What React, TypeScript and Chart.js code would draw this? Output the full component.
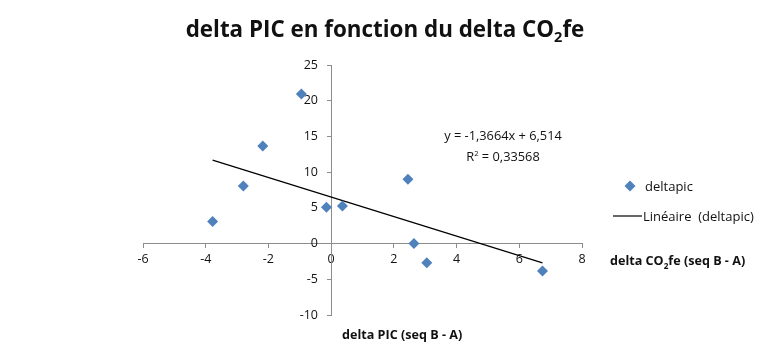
import React, { useEffect, useRef } from "react";
import { Chart, registerables } from "chart.js";

Chart.register(...registerables);

// Measured pairs: delta CO2fe (x) vs delta PIC (y), sequence B - A
const deltaCO2fe = [-3.78, -2.8, -2.18, -0.95, -0.15, 0.36, 2.45, 2.64, 3.05, 6.74];
const deltaPIC = [3.08, 8.07, 13.67, 20.95, 5.09, 5.27, 9.0, 0, -2.7, -3.83];

// Linear fit shown on the chart
const trendSlope = -1.3664;
const trendIntercept = 6.514;
const trendEquation = "y = -1,3664x + 6,514";
const trendR2 = "0,33568";

const xRange = { min: -6, max: 8, step: 2 };
const yRange = { min: -10, max: 25, step: 5 };

const FONT = "'Open Sans', 'Liberation Sans', sans-serif";
const BLUE = "#4F81BD";
const AXIS = "#8c8c8c";
// the vertical axis labels sit a little to the left of the axis line (in x units)
const Y_LABEL_ANCHOR = -0.42;

export default function App() {
  const canvasRef = useRef<HTMLCanvasElement | null>(null);

  useEffect(() => {
    if (!canvasRef.current) return;
    const points = deltaCO2fe.map((x, i) => ({ x, y: deltaPIC[i] }));
    const xMin = Math.min(...deltaCO2fe);
    const xMax = Math.max(...deltaCO2fe);
    const trend = [xMin, xMax].map((x) => ({ x, y: trendSlope * x + trendIntercept }));
    const tickFont = { family: FONT, size: 12.5 };

    const chart = new Chart(canvasRef.current, {
      type: "scatter",
      data: {
        datasets: [
          {
            label: "deltapic",
            data: points,
            pointStyle: "rectRot",
            pointRadius: 5.5,
            pointBackgroundColor: BLUE,
            pointBorderColor: BLUE,
            pointBorderWidth: 0,
            showLine: false,
            order: 1,
          },
          {
            label: "Linéaire  (deltapic)",
            data: trend,
            showLine: true,
            borderColor: "#000",
            borderWidth: 1.2,
            pointRadius: 0,
            order: 2,
          },
        ],
      },
      options: {
        animation: false,
        responsive: false,
        layout: { padding: { left: 143, right: 194, top: 65, bottom: 41 } },
        plugins: { legend: { display: false }, tooltip: { enabled: false }, title: { display: false } },
        scales: {
          x: {
            type: "linear",
            position: { y: 0 },
            min: xRange.min,
            max: xRange.max,
            ticks: { stepSize: xRange.step, color: "#111", font: tickFont, padding: 4 },
            grid: { drawOnChartArea: false, drawTicks: true, tickLength: 4, color: AXIS },
            border: { display: true, color: AXIS, width: 1 },
          },
          y: {
            type: "linear",
            position: { x: 0 },
            min: yRange.min,
            max: yRange.max,
            ticks: { stepSize: yRange.step, display: false },
            grid: { drawOnChartArea: false, drawTicks: true, tickLength: 4, color: AXIS },
            border: { display: true, color: AXIS, width: 1 },
          },
          yLabels: {
            type: "linear",
            axis: "y",
            position: { x: Y_LABEL_ANCHOR },
            min: yRange.min,
            max: yRange.max,
            ticks: { stepSize: yRange.step, color: "#111", font: tickFont },
            grid: { display: false },
            border: { display: false },
          },
        },
      },
    });
    return () => chart.destroy();
  }, []);

  const text: React.CSSProperties = { position: "absolute", fontFamily: FONT, color: "#111", whiteSpace: "nowrap" };

  return (
    <div style={{ position: "fixed", left: 0, top: 0, width: 776, height: 356, background: "#fff" }}>
      <canvas ref={canvasRef} width={776} height={356} style={{ position: "absolute", left: 0, top: 0 }} />
      <div style={{ ...text, left: 0, width: 770, top: 13, textAlign: "center", fontWeight: 700, fontSize: 22.4 }}>
        delta PIC en fonction du delta CO<sub style={{ fontSize: "0.65em" }}>2</sub>fe
      </div>
      <div style={{ ...text, left: 441, top: 126, fontSize: 12.8, lineHeight: "18px", textAlign: "center", width: 124 }}>
        {trendEquation}
        <br />
        R<sup style={{ fontSize: "0.6em" }}>2</sup> = {trendR2}
      </div>
      <div style={{ ...text, left: 624, top: 177, fontSize: 13, display: "flex", alignItems: "center" }}>
        <svg width="12" height="12" style={{ marginRight: 9 }}>
          <polygon points="6,0.5 11.5,6 6,11.5 0.5,6" fill={BLUE} />
        </svg>
        deltapic
      </div>
      <div style={{ ...text, left: 613, top: 207, fontSize: 13, display: "flex", alignItems: "center" }}>
        <svg width="29" height="4" style={{ marginRight: 1 }}>
          <line x1="0" y1="2" x2="29" y2="2" stroke="#000" strokeWidth="1.2" />
        </svg>
        Linéaire&nbsp; (deltapic)
      </div>
      <div style={{ ...text, left: 610, top: 252, fontSize: 12.6, fontWeight: 700 }}>
        delta CO<sub style={{ fontSize: "0.65em" }}>2</sub>fe (seq B - A)
      </div>
      <div style={{ ...text, left: 342, top: 326, fontSize: 12.6, fontWeight: 700 }}>delta PIC (seq B - A)</div>
    </div>
  );
}
